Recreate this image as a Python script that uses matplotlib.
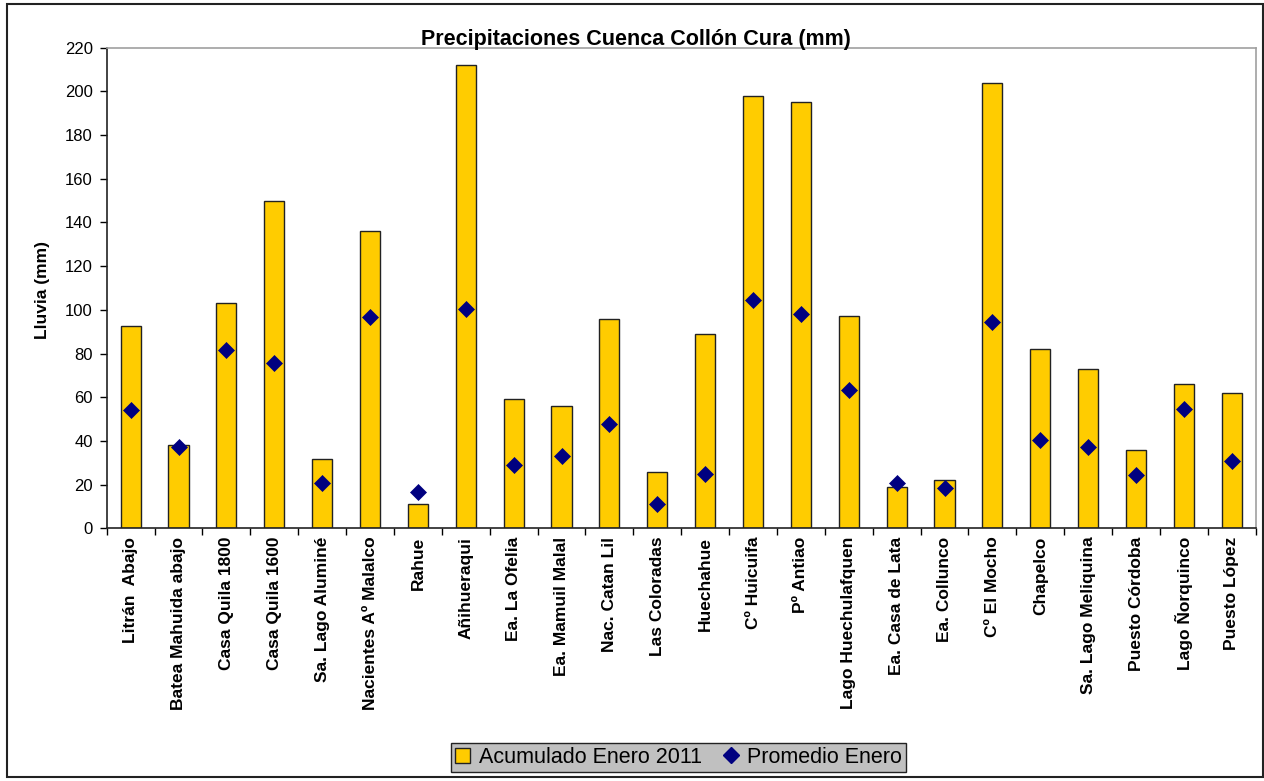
import numpy as np
import matplotlib.pyplot as plt
from matplotlib.patches import Rectangle
from matplotlib.lines import Line2D
from matplotlib.patches import Patch

plt.rcParams['font.family'] = ['Liberation Sans', 'DejaVu Sans']

estaciones = [u'Litrán  Abajo', u'Batea Mahuida abajo', u'Casa Quila 1800', u'Casa Quila 1600',
              u'Sa. Lago Aluminé', u'Nacientes Aº Malalco', u'Rahue', u'Añihueraqui',
              u'Ea. La Ofelia', u'Ea. Mamuil Malal', u'Nac. Catan Lil', u'Las Coloradas',
              u'Huechahue', u'Cº Huicuifa', u'Pº Antiao', u'Lago Huechulafquen',
              u'Ea. Casa de Lata', u'Ea. Collunco', u'Cº El Mocho', u'Chapelco',
              u'Sa. Lago Meliquina', u'Puesto Córdoba', u'Lago Ñorquinco', u'Puesto López']

acumulado = [92.5, 38.3, 103, 150, 31.7, 136, 11, 212,
             59, 56, 96, 26, 89, 198, 195, 97,
             19, 22, 204, 82, 73, 36, 66, 62]

promedio = [54, 37.3, 81.5, 75.7, 20.7, 96.5, 16.6, 100.5,
            28.8, 32.9, 47.8, 11, 24.8, 104.7, 98.3, 63.5,
            20.9, 18.4, 94.3, 40.3, 37, 24.2, 54.8, 30.7]

W, H = 1264, 781
fig = plt.figure(figsize=(W/100.0, H/100.0), dpi=100)
ax = fig.add_axes([106.7/W, 1-528.3/H, (1255.7-106.7)/W, (528.3-47.7)/H])

x = np.arange(len(estaciones))
ax.bar(x, acumulado, width=0.42, color='#FFCC00', edgecolor='#222222', linewidth=1.0, zorder=2)
ax.plot(x, promedio, linestyle='none', marker='D', markersize=8,
        color='#000080', markeredgewidth=0.5, zorder=3)

ax.set_xlim(-0.5, len(estaciones)-0.5)
ax.set_ylim(0, 220)
ax.set_yticks(np.arange(0, 221, 20))
ax.set_xticks(x)
ax.set_xticklabels(estaciones, rotation=90, fontsize=12.5, fontweight='bold')
ax.set_xticks(np.arange(-0.5, len(estaciones), 1), minor=True)
ax.tick_params(axis='x', which='major', length=0, pad=6)
ax.tick_params(axis='x', which='minor', length=5, width=1, direction='out')
ax.tick_params(axis='y', length=5, width=1, direction='out', labelsize=12, pad=5)

for s in ['top', 'right']:
    ax.spines[s].set_color('#a0a0a0')
    ax.spines[s].set_linewidth(1.2)
for s in ['left', 'bottom']:
    ax.spines[s].set_color('#222222')
    ax.spines[s].set_linewidth(1.2)

fig.text(636/W, 1-45.5/H, u'Precipitaciones Cuenca Collón Cura (mm)', ha='center',
         va='baseline', fontsize=15.5, fontweight='bold')
fig.text(43/W, 1-290/H, u'Lluvia (mm)', rotation=90, ha='center', va='center',
         fontsize=12.5, fontweight='bold')

# marco exterior
fig.patches.append(Rectangle((7/W, 1-777/H), (1262.5-7)/W, (777-4)/H, transform=fig.transFigure,
                             fill=False, edgecolor='#222222', linewidth=1.5))

handles = [Patch(facecolor='#FFCC00', edgecolor='#222222', linewidth=1.0),
           Line2D([], [], linestyle='none', marker='D', markersize=8, color='#000080')]
leg = fig.legend(handles, [u'Acumulado Enero 2011', u'Promedio Enero'], ncol=2,
                 loc='center', bbox_to_anchor=(678.5/W, 1-757.5/H), fontsize=15.5,
                 fancybox=False, framealpha=1, facecolor='#c0c0c0', edgecolor='#222222',
                 handlelength=0.7, handleheight=0.7, handletextpad=0.4, columnspacing=1.0,
                 borderpad=0.2, borderaxespad=0)
leg.get_frame().set_linewidth(1.0)

plt.savefig('out.png', dpi=100)
